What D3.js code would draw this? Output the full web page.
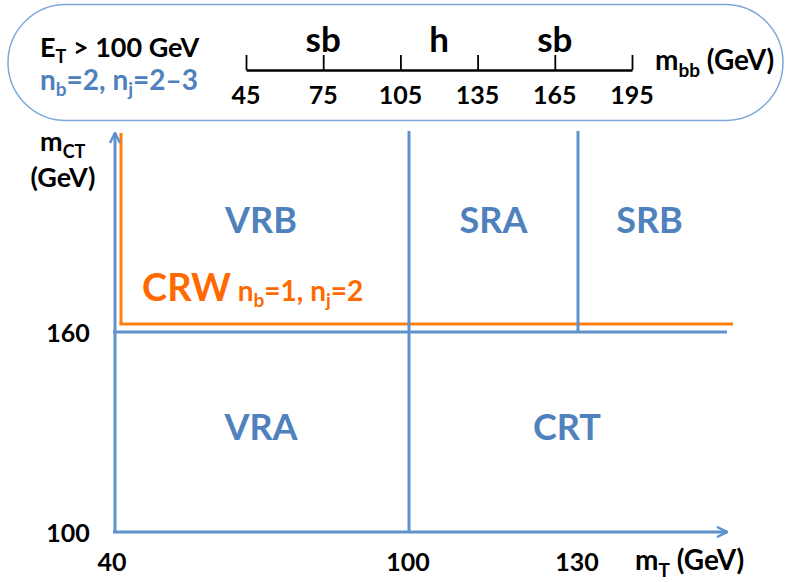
<!DOCTYPE html>
<html>
<head>
<meta charset="utf-8">
<script src="https://cdn.jsdelivr.net/npm/d3@7"></script>
<style>
  html, body { margin: 0; padding: 0; background: #fff; }
  svg text { font-family: Lato, "Open Sans", sans-serif; font-weight: bold; }
</style>
</head>
<body>
<svg id="chart" width="788" height="582"></svg>
<script>
// ---- data ----
const mTTicks = [40, 100, 130];            // x-axis tick values (GeV)
const mCTTicks = [100, 160];               // y-axis tick values (GeV)
const mbbTicks = [45, 75, 105, 135, 165, 195];   // m_bb scale ticks
const mbbBands = [                         // labels over the m_bb scale
  { label: "sb", at: 75 },
  { label: "h", at: 120 },
  { label: "sb", at: 165 }
];
const regions = [                          // region name, mT range, mCT range
  { name: "VRB", mT: [40, 100], mCT: [160, 220] },
  { name: "SRA", mT: [100, 130], mCT: [160, 220] },
  { name: "SRB", mT: [130, 160], mCT: [160, 220] },
  { name: "VRA", mT: [40, 100], mCT: [100, 160] },
  { name: "CRT", mT: [100, 160], mCT: [100, 160] }
];
const mTMax = 160, mCTMax = 220;
const crwCut = { mT: 40, mCT: 160 };

// ---- styles ----
const blue = "#5f92cc", textBlue = "#4f81bd", orange = "#ff7f0e", crwText = "#ff6a00";

const svg = d3.select("#chart");

// piecewise scales (schematic, not to scale)
const x = d3.scaleLinear().domain([40, 100, 130, 160]).range([113, 409, 578, 727]);
const y = d3.scaleLinear().domain([100, 160, 220]).range([532, 332, 132]);
const xb = d3.scaleLinear().domain([45, 195]).range([246, 632]);

// helper for text with subscripts: parts = [[text, isSub], ...]
function richText(sel, parts, size, subSize, shift) {
  let inSub = false;
  parts.forEach(([t, sub]) => {
    const ts = sel.append("tspan").text(t).attr("font-size", sub ? subSize : size);
    if (sub && !inSub) ts.attr("dy", shift);
    if (!sub && inSub) ts.attr("dy", -shift);
    inSub = sub;
  });
  return sel;
}

// ---- top rounded box ----
svg.append("rect").attr("x", 8).attr("y", 4.5).attr("width", 775).attr("height", 116)
  .attr("rx", 58).attr("ry", 58)
  .attr("fill", "none").attr("stroke", "#7ea8d8").attr("stroke-width", 1.5);

richText(svg.append("text").attr("x", 40).attr("y", 57).attr("fill", "#000"),
  [["E", 0], ["T", 1], [" > 100 GeV", 0]], 27, 18, 6);
richText(svg.append("text").attr("x", 40).attr("y", 90).attr("fill", textBlue),
  [["n", 0], ["b", 1], ["=2, n", 0], ["j", 1], ["=2\u20133", 0]], 28, 19, 6);

// m_bb axis
const gb = svg.append("g").attr("transform", "translate(0,70)");
gb.call(d3.axisBottom(xb).tickValues(mbbTicks).tickSize(-15).tickSizeOuter(0).tickFormat(""));
gb.select(".domain").attr("stroke", "#000").attr("stroke-width", 2.5);
gb.selectAll(".tick line").attr("stroke", "#000").attr("stroke-width", 1.8);
svg.selectAll(".mbbLabel").data(mbbTicks).join("text")
  .attr("x", d => xb(d)).attr("y", 104).attr("text-anchor", "middle")
  .attr("font-size", 25).attr("fill", "#000").text(d => d);
svg.selectAll(".band").data(mbbBands).join("text")
  .attr("x", d => xb(d.at))
  .attr("y", 52).attr("text-anchor", "middle").attr("font-size", 35).attr("fill", "#000")
  .text(d => d.label);
richText(svg.append("text").attr("x", 655).attr("y", 70).attr("fill", "#000"),
  [["m", 0], ["bb", 1], [" (GeV)", 0]], 28, 19, 7);

// ---- main diagram ----
const defs = svg.append("defs");
defs.append("marker").attr("id", "arr").attr("viewBox", "0 0 12 12").attr("refX", 11).attr("refY", 6)
  .attr("markerWidth", 12).attr("markerHeight", 12).attr("markerUnits", "userSpaceOnUse").attr("orient", "auto")
  .append("path").attr("d", "M1,1 L11,6 L1,11").attr("fill", "none").attr("stroke", blue).attr("stroke-width", 2.5);

const line = (x1, y1, x2, y2, color, marker) => {
  const l = svg.append("line").attr("x1", x1).attr("y1", y1).attr("x2", x2).attr("y2", y2)
    .attr("stroke", color).attr("stroke-width", 3);
  if (marker) l.attr("marker-end", "url(#arr)");
  return l;
};

// CRW boundary (orange), drawn slightly offset inside the axes
const off = 8;
line(x(crwCut.mT) + off, y(mCTMax) + 1, x(crwCut.mT) + off, y(crwCut.mCT) - off, orange);
line(x(crwCut.mT) + off - 1.5, y(crwCut.mCT) - off, x(mTMax) + 6, y(crwCut.mCT) - off, orange);

// axes
line(x(40), y(100), x(mTMax), y(100), blue, true);
line(x(40) + 2, y(100), x(40) + 2, y(mCTMax) + 1, blue, true);
// region boundaries
line(x(40), y(160), x(mTMax), y(160), blue);
line(x(100), y(100), x(100), y(mCTMax) - 1, blue);
line(x(130), y(160), x(130), y(mCTMax) - 1, blue);

// region labels
svg.selectAll(".region").data(regions).join("text")
  .attr("x", d => (x(d.mT[0]) + x(d.mT[1])) / 2 + (d.name === "SRB" ? -3 : d.name === "CRT" ? -1 : 0))
  .attr("y", d => (y(d.mCT[0]) + y(d.mCT[1])) / 2 + 13 + (d.mCT[0] === 160 ? -12 : -5))
  .attr("text-anchor", "middle").attr("font-size", 36).attr("fill", textBlue)
  .text(d => d.name);

// CRW label
const crw = svg.append("text").attr("x", 142).attr("y", 301).attr("fill", crwText);
crw.append("tspan").attr("font-size", 38).text("CRW");
richText(crw, [[" n", 0], ["b", 1], ["=1, n", 0], ["j", 1], ["=2", 0]], 28, 19, 6);

// tick labels
svg.selectAll(".xl").data(mTTicks).join("text")
  .attr("x", d => x(d) - 1).attr("y", 571).attr("text-anchor", "middle")
  .attr("font-size", 25).attr("fill", "#000").text(d => d);
svg.selectAll(".yl").data(mCTTicks).join("text")
  .attr("x", 68).attr("y", d => y(d) + 10).attr("text-anchor", "middle")
  .attr("font-size", 25).attr("fill", "#000").text(d => d);

// axis titles
richText(svg.append("text").attr("x", 635).attr("y", 570).attr("fill", "#000"),
  [["m", 0], ["T", 1], [" (GeV)", 0]], 28, 19, 7);
richText(svg.append("text").attr("x", 40).attr("y", 151).attr("fill", "#000"),
  [["m", 0], ["CT", 1]], 27, 18, 7);
svg.append("text").attr("x", 63).attr("y", 187).attr("text-anchor", "middle")
  .attr("font-size", 27).attr("fill", "#000").text("(GeV)");
</script>
</body>
</html>
